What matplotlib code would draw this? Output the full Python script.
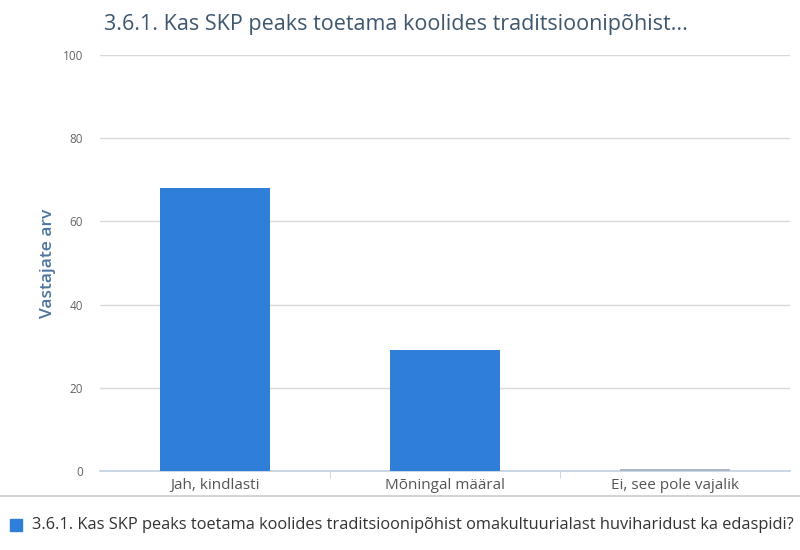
import matplotlib
matplotlib.use("Agg")
import matplotlib.pyplot as plt
from matplotlib.lines import Line2D
from matplotlib.patches import Rectangle

categories = ["Jah, kindlasti", "Mõningal määral", "Ei, see pole vajalik"]
values = [68, 29, 0.5]
yticks = [0, 20, 40, 60, 80, 100]
title = "3.6.1. Kas SKP peaks toetama koolides traditsioonipõhist..."
series_name = "3.6.1. Kas SKP peaks toetama koolides traditsioonipõhist omakultuurialast huviharidust ka edaspidi?"
ylabel = "Vastajate arv"

plt.rcParams['font.family'] = ['Open Sans', 'DejaVu Sans']

fig = plt.figure(figsize=(8, 5.5), dpi=100)
ax = fig.add_axes([0.125, 0.1436, 0.8625, 0.7564])

colors = ["#2f7ed8", "#2f7ed8", "#aab4c4"]
ax.bar(range(len(categories)), values, width=0.478, color=colors, zorder=3)

ax.set_xlim(-0.5, 2.5)
ax.set_ylim(0, 100)
ax.set_yticks(yticks)
ax.set_yticklabels([str(t) for t in yticks], fontsize=8.5, color="#666666")
ax.set_xticks(range(len(categories)))
ax.set_xticklabels(categories, fontsize=11, color="#555555")
ax.tick_params(axis="y", length=0, pad=12)
ax.tick_params(axis="x", length=0, pad=5)
ax.set_xticks([0.5, 1.5], minor=True)
ax.tick_params(axis="x", which="minor", length=5, color="#c0d0e0")

ax.grid(axis="y", color="#d8d8d8", linewidth=1, zorder=0)
for s in ["top", "right", "left"]:
    ax.spines[s].set_visible(False)
ax.spines["bottom"].set_color("#c0d0e0")
ax.spines["bottom"].set_linewidth(1.2)

ax.set_ylabel(ylabel, fontsize=12.5, color="#4d759e", fontweight="semibold", labelpad=5)

fig.text(0.13, 0.955, title, fontsize=15.5, color="#3e576f", ha="left", va="center")

# legend separator and legend
fig.add_artist(Line2D([0.0, 1.0], [1 - 496/550, 1 - 496/550], color="#cccccc", linewidth=1.2))
fig.add_artist(Rectangle((10/800, 1 - 531/550), 12/800, 12/550, color="#2f7ed8"))
fig.text(32/800, 1 - 525/550, series_name, fontsize=11.8, color="#333333", ha="left", va="center")

fig.savefig("out.png", dpi=100)
